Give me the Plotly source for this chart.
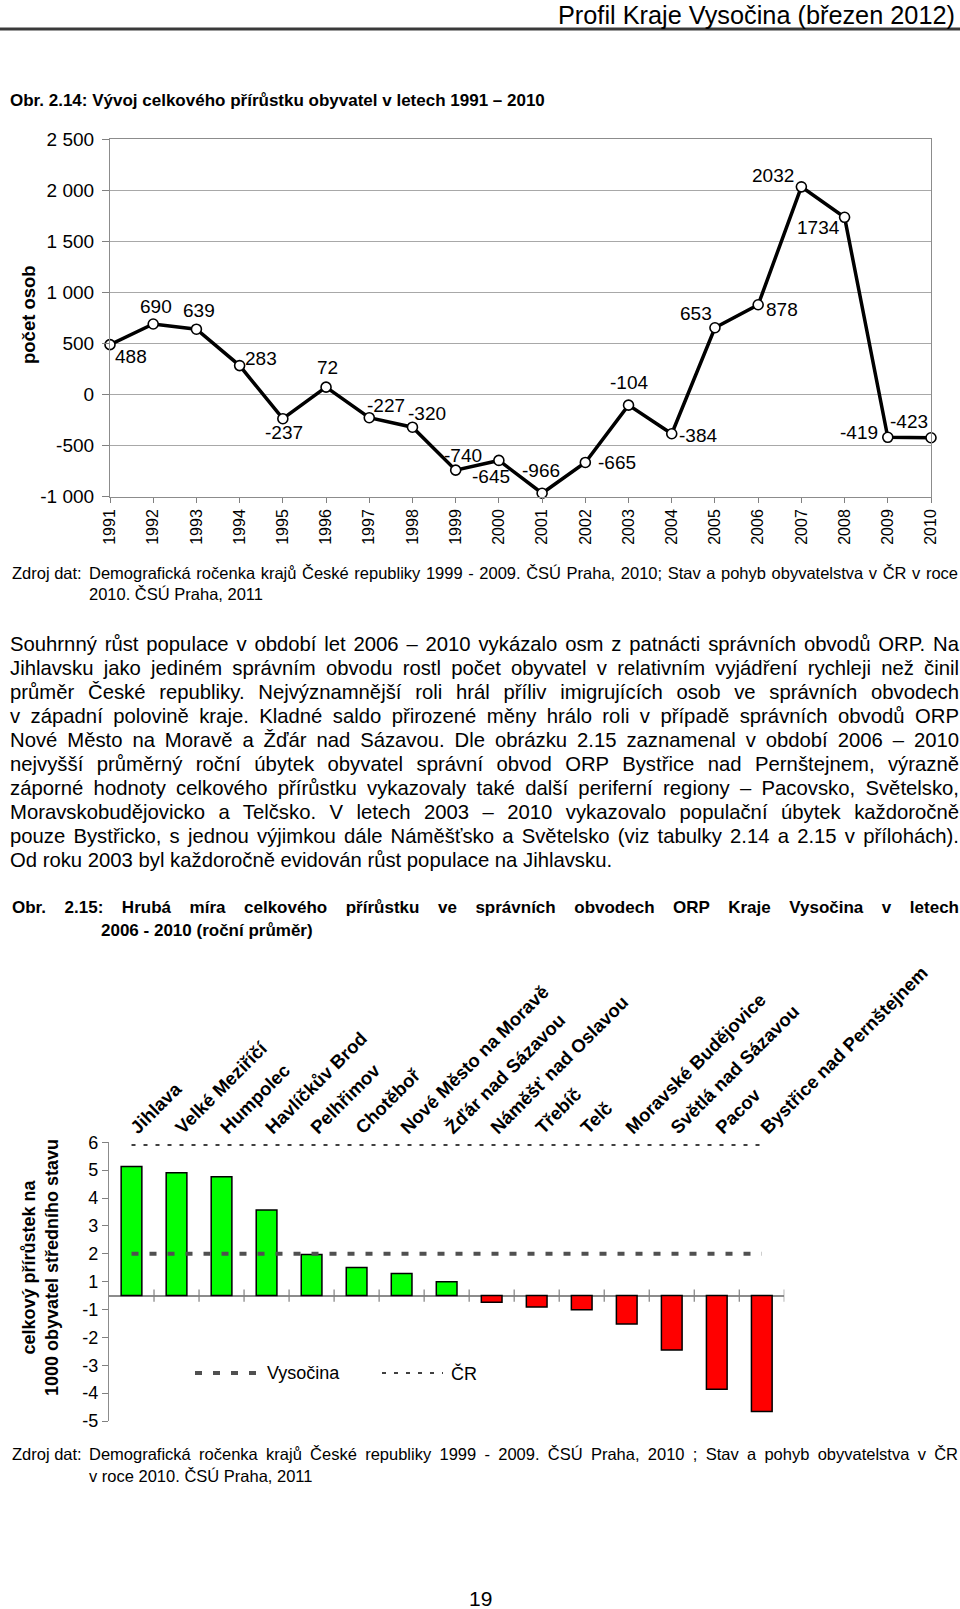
import json
import plotly.graph_objects as go

W, H = 960, 1609

# ---------------- data ----------------
years = [1991, 1992, 1993, 1994, 1995, 1996, 1997, 1998, 1999, 2000,
         2001, 2002, 2003, 2004, 2005, 2006, 2007, 2008, 2009, 2010]
growth = [488, 690, 639, 283, -237, 72, -227, -320, -740, -645,
          -966, -665, -104, -384, 653, 878, 2032, 1734, -419, -423]
y1_ticks = [-1000, -500, 0, 500, 1000, 1500, 2000, 2500]
y1_ticktext = ["-1 000", "-500", "0", "500", "1 000", "1 500", "2 000", "2 500"]

regions = ["Jihlava", "Velké Meziříčí", "Humpolec", "Havlíčkův Brod", "Pelhřimov",
           "Chotěboř", "Nové Město na Moravě", "Žďár nad Sázavou", "Náměšť nad Oslavou",
           "Třebíč", "Telč", "Moravské Budějovice", "Světlá nad Sázavou", "Pacov",
           "Bystřice nad Pernštejnem"]
rate = [5.13, 4.91, 4.76, 3.57, 1.97, 1.51, 1.29, 1.00, -0.74, -0.91,
        -1.01, -1.52, -2.45, -3.86, -4.66]
vysocina_avg = 2.0
cr_avg = 5.9
y2_labels = [6, 5, 4, 3, 2, 1, -1, -2, -3, -4, -5]

# ---------------- helpers ----------------
def PX(x):
    return x / W

def PY(y):
    return 1 - y / H

def shown(v):
    # the original axis has no "0" label: labels 1 and -1 sit half a unit from the axis line
    return v - 0.5 if v > 0 else v + 0.5

FONT = "Liberation Sans, Arial, sans-serif"
NARROW = "Liberation Sans Narrow, Arial Narrow, Liberation Sans, Arial, sans-serif"

# label offsets (px) for chart 1 data labels: (dx, dy down)
lab_off = [(21, 12), (3, -17), (3, -19), (21, -7), (1, 14), (1, -20), (17, -12), (15, -14),
           (7, -15), (-8, 16), (-1, -23), (32, 0), (0, -23), (26, 2), (-19, -14), (24, 5),
           (-28, -11), (-26, 10), (-29, -5), (-22, -16)]

fig = go.Figure()

# ---------------- chart 1 ----------------
fig.add_trace(go.Scatter(
    x=years, y=growth, mode="lines+markers", xaxis="x", yaxis="y",
    line=dict(color="black", width=3.5),
    marker=dict(symbol="circle", size=10, color="white", line=dict(color="black", width=1.6)),
    cliponaxis=False, showlegend=False, hoverinfo="skip"))

annotations = []
for (yr, v), (dx, dy) in zip(zip(years, growth), lab_off):
    annotations.append(dict(x=yr, y=v, xref="x", yref="y", text=str(v), showarrow=False,
                            xshift=dx, yshift=-dy, font=dict(size=19, family=FONT, color="black")))

# ---------------- chart 2 ----------------
bar_colors = ["#00FF00" if v > 0 else "#FF0000" for v in rate]
fig.add_trace(go.Bar(
    x=regions, y=[shown(v) for v in rate], xaxis="x2", yaxis="y2",
    marker=dict(color=bar_colors, line=dict(color="black", width=1.5)),
    width=0.46, showlegend=False, hoverinfo="skip"))
fig.add_trace(go.Scatter(
    x=regions, y=[shown(vysocina_avg)] * len(regions), mode="lines", xaxis="x2", yaxis="y2",
    line=dict(color="#505050", width=4, dash="7px,11px"), showlegend=False, hoverinfo="skip"))
fig.add_trace(go.Scatter(
    x=regions, y=[shown(cr_avg)] * len(regions), mode="lines", xaxis="x2", yaxis="y2",
    line=dict(color="#404040", width=2, dash="4px,8px"), showlegend=False, hoverinfo="skip"))

shapes = []
# header rule
shapes.append(dict(type="line", xref="paper", yref="paper", x0=0, x1=1, y0=PY(29), y1=PY(29),
                   line=dict(color="#3a3a3a", width=3)))
# tick marks crossing the zero line of chart 2
for k in range(1, len(regions) + 1):
    shapes.append(dict(type="line", xref="x2", yref="y2", x0=k - 0.5, x1=k - 0.5, y0=-0.22, y1=0.22,
                       line=dict(color="#808080", width=1.2)))
# manual legend samples
shapes.append(dict(type="line", xref="paper", yref="paper", x0=PX(195), x1=PX(260), y0=PY(1373), y1=PY(1373),
                   line=dict(color="#505050", width=4, dash="7px,11px")))
shapes.append(dict(type="line", xref="paper", yref="paper", x0=PX(382), x1=PX(443), y0=PY(1373), y1=PY(1373),
                   line=dict(color="#404040", width=2, dash="4px,8px")))

def txt(x, y, text, size, family=FONT, bold=False, xanchor="left", angle=0, align="left"):
    d = dict(x=PX(x), y=PY(y), xref="paper", yref="paper", text=text, showarrow=False,
             xanchor=xanchor, yanchor="middle", align=align, textangle=angle,
             font=dict(size=size, family=family, color="black", weight="bold" if bold else "normal"))
    annotations.append(d)
    return len(annotations) - 1

justify = []  # (annotation index, target width px)

txt(957, 15, "Profil Kraje Vysočina (březen 2012)", 25.3, family=NARROW, xanchor="right", align="right")
txt(8, 101, "Obr. 2.14: Vývoj celkového přírůstku obyvatel v letech 1991 – 2010", 17, bold=True)
txt(28, 315, "počet osob", 18.5, bold=True, xanchor="center", angle=-90, align="center")

txt(10, 573, "Zdroj dat:", 16.5)
i = txt(87, 573, "Demografická ročenka krajů České republiky 1999 - 2009. ČSÚ Praha, 2010; Stav a pohyb obyvatelstva v ČR v roce", 16.5)
justify.append((i, 869))
txt(87, 594, "2010. ČSÚ Praha, 2011", 16.5)

para = [
    "Souhrnný růst populace v období let 2006 – 2010 vykázalo osm z patnácti správních obvodů ORP. Na",
    "Jihlavsku jako jediném správním obvodu rostl počet obyvatel v relativním vyjádření rychleji než činil",
    "průměr České republiky. Nejvýznamnější roli hrál příliv imigrujících osob ve správních obvodech",
    "v západní polovině kraje. Kladné saldo přirozené měny hrálo roli v případě správních obvodů ORP",
    "Nové Město na Moravě a Žďár nad Sázavou. Dle obrázku 2.15 zaznamenal v období 2006 – 2010",
    "nejvyšší průměrný roční úbytek obyvatel správní obvod ORP Bystřice nad Pernštejnem, výrazně",
    "záporné hodnoty celkového přírůstku vykazovaly také další periferní regiony – Pacovsko, Světelsko,",
    "Moravskobudějovicko a Telčsko. V letech 2003 – 2010 vykazovalo populační úbytek každoročně",
    "pouze Bystřicko, s jednou výjimkou dále Náměšťsko a Světelsko (viz tabulky 2.14 a 2.15 v přílohách).",
    "Od roku 2003 byl každoročně evidován růst populace na Jihlavsku.",
]
for k, line in enumerate(para):
    i = txt(8, 644 + 24.05 * k, line, 20.3)
    if k < len(para) - 1:
        justify.append((i, 949))

i = txt(10, 907, "Obr. 2.15: Hrubá míra celkového přírůstku ve správních obvodech ORP Kraje Vysočina v letech", 17, bold=True)
justify.append((i, 947))
txt(99, 930, "2006 - 2010 (roční průměr)", 17, bold=True)

txt(40, 1268, "celkový přírůstek na<br>1000 obyvatel středního stavu", 18, bold=True,
    xanchor="center", angle=-90, align="center")
txt(265, 1373, "Vysočina", 18)
txt(449, 1373, "ČR", 18)

txt(10, 1454, "Zdroj dat:", 16.5)
i = txt(87, 1454, "Demografická ročenka krajů České republiky 1999 - 2009. ČSÚ Praha, 2010 ; Stav a pohyb obyvatelstva v ČR", 16.5)
justify.append((i, 869))
txt(87, 1476, "v roce 2010. ČSÚ Praha, 2011", 16.5)
txt(480, 1598, "19", 21, family=NARROW, xanchor="center", align="center")

fig.update_layout(
    template="none",
    width=W, height=H, margin=dict(l=0, r=0, t=0, b=0),
    paper_bgcolor="white", plot_bgcolor="white",
    font=dict(family=FONT, color="black"),
    showlegend=False,
    xaxis=dict(domain=[PX(110), PX(931)], anchor="y", range=[1991, 2010],
               tickvals=years, ticktext=[str(y) for y in years], tickangle=-90,
               tickfont=dict(size=16, family=FONT), ticks="outside", ticklen=5, tickcolor="#808080",
               showline=True, linecolor="#8c8c8c", linewidth=1.2, mirror=True, showgrid=False,
               zeroline=False, automargin=False),
    yaxis=dict(domain=[PY(496.7), PY(139)], anchor="x", range=[-1000, 2500],
               tickvals=y1_ticks, ticktext=y1_ticktext, tickfont=dict(size=19, family=FONT),
               ticks="outside", ticklen=7, tickcolor="#808080", ticklabelstandoff=4,
               showline=True, linecolor="#8c8c8c", linewidth=1.2, mirror=True,
               showgrid=True, gridcolor="#a8a8a8", gridwidth=1.2, zeroline=False, automargin=False),
    xaxis2=dict(domain=[PX(109), PX(784.3)], anchor="y2", side="top", type="category",
                range=[-0.5, len(regions) - 0.5], tickangle=-45,
                tickfont=dict(size=18.5, family=FONT, weight="bold"), ticks="",
                showline=False, showgrid=False, zeroline=False, automargin=False),
    yaxis2=dict(domain=[PY(1421), PY(1142.3)], anchor="x2", range=[-4.5, 5.5],
                tickvals=[shown(v) for v in y2_labels], ticktext=[str(v) for v in y2_labels],
                tickfont=dict(size=18, family=FONT), ticks="outside", ticklen=6, tickcolor="#808080",
                showline=True, linecolor="#8c8c8c", linewidth=1.2, showgrid=False,
                zeroline=True, zerolinecolor="#8c8c8c", zerolinewidth=1.5, automargin=False),
    annotations=annotations,
    shapes=shapes,
)

js = """
document.body.style.margin = '0';
var gd = document.getElementById('{plot_id}');
var J = """ + json.dumps(justify) + """;
J.forEach(function(p){
  var g = gd.querySelector('g.annotation[data-index="' + p[0] + '"]');
  if (!g) return;
  var t = g.querySelector('text.annotation-text');
  if (!t) return;
  var w = t.getComputedTextLength();
  var s = (t.textContent.match(/ /g) || []).length;
  if (s > 0 && p[1] > w) { t.style.wordSpacing = ((p[1] - w) / s) + 'px'; }
});
"""

fig.write_html("out.html", post_script=js, config={"responsive": False, "displayModeBar": False})
